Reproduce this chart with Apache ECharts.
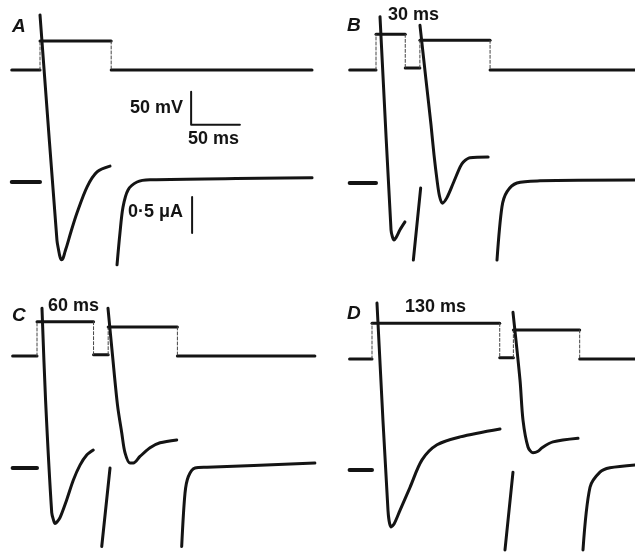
<!DOCTYPE html>
<html>
<head>
<meta charset="utf-8">
<script src="https://cdn.jsdelivr.net/npm/echarts@6/dist/echarts.min.js"></script>
<style>
  html, body { margin: 0; padding: 0; background: #fff; }
  #main { width: 635px; height: 552px; }
</style>
</head>
<body>
<div id="main"></div>
<script>
  // voltage protocol, ms / mV (holding -80 mV)
  var stepTimesA = [-29, 0, 73, 279];
  var stepLevelsA = [-80, -36, -80];
  var stepTimesB = [-27, 0, 30, 45, 117, 266];
  var stepLevelsB = [-80, -26, -77, -35, -80];
  var stepTimesC = [-25, 0, 58, 73, 144, 285];
  var stepLevelsC = [-80, -28, -78, -36, -80];
  var stepTimesD = [-23, 0, 131, 145, 213, 270];
  var stepLevelsD = [-80, -26, -78, -36, -80];

  // membrane current, [ms, uA], 0 = holding current
  var baseA = [[-29, 0], [0, 0]];
  var currentA = [
    [[0, 2.32], [17.4, -0.81], [19, -0.94], [20.5, -1.04], [22, -1.08], [23.6, -1.06], [25.6, -0.97], [27.7, -0.88], [32, -0.68], [37.9, -0.43], [48.2, -0.07], [58.5, 0.14], [71.8, 0.22]],
    [[79, -1.15], [82, -0.71], [85.1, -0.35], [90.3, -0.11], [99.5, 0], [112.8, 0.03], [279, 0.06]]
  ];
  var baseB = [[-27, 0], [0, 0]];
  var currentB = [
    [[4.1, 2.31], [15.4, -0.65], [16.9, -0.75], [18.5, -0.79], [20.5, -0.76], [24.6, -0.65], [29.7, -0.54]],
    [[38.3, -1.07], [45.8, -0.07]],
    [[45.1, 2.19], [51.3, 1.43], [56.4, 0.81], [59.5, 0.39], [62.6, 0.04], [65.1, -0.18], [68, -0.28], [72.5, -0.21], [79.3, 0], [86.2, 0.22], [89.5, 0.29], [96.4, 0.35], [115, 0.36]],
    [[124.1, -1.07], [129.2, -0.33], [134.4, -0.12], [144.6, 0], [168.2, 0.03], [266, 0.04]]
  ];
  var baseC = [[-25, 0], [0, 0]];
  var currentC = [
    [[5.1, 2.22], [8.8, 0.94], [15.1, -0.62], [16.9, -0.72], [18.5, -0.77], [20.5, -0.75], [23.6, -0.69], [30.5, -0.44], [37.2, -0.17], [44.1, 0.04], [51, 0.18], [57.7, 0.25]],
    [[66.4, -1.09], [74.9, 0]],
    [[72.8, 2.22], [77.4, 1.57], [82.6, 0.87], [86.9, 0.49], [90.3, 0.21], [95.4, 0.07], [98.8, 0.07], [105.6, 0.16], [115.9, 0.28], [126.2, 0.35], [143.3, 0.39]],
    [[148.4, -1.09], [151.8, -0.35], [155.2, -0.12], [162.1, 0], [174.4, 0.01], [285, 0.07]]
  ];
  var baseD = [[-23, 0], [0, 0]];
  var currentD = [
    [[5.1, 2.32], [16.4, -0.56], [19.5, -0.79], [22.6, -0.75], [28.7, -0.56], [39, -0.24], [51.3, 0.14], [66.7, 0.35], [90.3, 0.46], [131.3, 0.57]],
    [[136.4, -1.11], [144.6, -0.03]],
    [[144.6, 2.19], [151.8, 1.25], [154.9, 0.69], [160, 0.32], [165.1, 0.24], [170.3, 0.26], [174.4, 0.31], [185.6, 0.39], [211.3, 0.44]],
    [[216.4, -1.11], [223.6, -0.24], [233.8, -0.03], [244, 0.03], [270, 0.07]]
  ];

  // scale bars (panel A): 50 mV, 50 ms, 0.5 uA
  var barMv = [[155, -113], [155, -163], [205, -163]];
  var barUa = [[156, -0.21], [156, -0.71]];

  // page scale of the original figure
  var PX_MS = 0.975, PX_MV = 0.66, PX_UA = 72, HOLD = -80;
  var T_MIN = -30, W = 312, PAGE_W = 635;
  var panels = [
    {x0: 40, top: 0, h: 276, vBase: 70, iBase: 182, t: stepTimesA, v: stepLevelsA, base: baseA, cur: currentA},
    {x0: 376, top: 0, h: 276, vBase: 70, iBase: 183, t: stepTimesB, v: stepLevelsB, base: baseB, cur: currentB},
    {x0: 37, top: 276, h: 276, vBase: 356, iBase: 468, t: stepTimesC, v: stepLevelsC, base: baseC, cur: currentC},
    {x0: 372, top: 276, h: 276, vBase: 359, iBase: 470, t: stepTimesD, v: stepLevelsD, base: baseD, cur: currentD}
  ];

  var INK = '#141414';
  var grids = [], xAxes = [], yAxes = [], series = [];

  function line(data, xi, yi, style) {
    return {
      type: 'line', data: data, xAxisIndex: xi, yAxisIndex: yi,
      symbol: 'none', silent: true, animation: false, clip: false,
      smooth: style.smooth || false,
      lineStyle: {color: style.color || INK, width: style.width, type: style.type || 'solid', cap: 'round', join: 'round'}
    };
  }

  panels.forEach(function (p, k) {
    var left = p.x0 + T_MIN * PX_MS;
    var w = Math.min(W, PAGE_W - left);   // echarts keeps the grid inside the page
    grids.push({left: left, top: p.top, width: w, height: p.h});
    xAxes.push({type: 'value', gridIndex: k, min: T_MIN, max: T_MIN + w / PX_MS, show: false});
    var vMax = HOLD + (p.vBase - p.top) / PX_MV;
    yAxes.push({type: 'value', gridIndex: k, max: vMax, min: vMax - p.h / PX_MV, show: false});
    var iMax = (p.iBase - p.top) / PX_UA;
    yAxes.push({type: 'value', gridIndex: k, max: iMax, min: iMax - p.h / PX_UA, show: false});
    var vi = 2 * k, ii = 2 * k + 1;

    // voltage: solid plateaus, thin dashed jumps
    for (var i = 0; i < p.v.length; i++) {
      series.push(line([[p.t[i], p.v[i]], [p.t[i + 1], p.v[i]]], k, vi, {width: 3}));
      if (i > 0) {
        series.push(line([[p.t[i], p.v[i - 1]], [p.t[i], p.v[i]]], k, vi, {width: 1, type: [3, 2], color: '#444'}));
      }
    }
    // current
    series.push(line(p.base, k, ii, {width: 4}));
    p.cur.forEach(function (seg) {
      series.push(line(seg, k, ii, {width: 3, smooth: 0.3}));
    });
  });

  series.push(line(barMv, 0, 0, {width: 2}));
  series.push(line(barUa, 0, 1, {width: 2}));

  function txt(s, x, y, font, align) {
    return {type: 'text', silent: true, style: {text: s, x: x, y: y, font: font, fill: INK, textAlign: align || 'left', textVerticalAlign: 'middle'}};
  }
  var F = 'bold 18px "Liberation Sans", Arial, sans-serif';
  var FL = 'italic bold 19px "Liberation Sans", Arial, sans-serif';

  var chart = echarts.init(document.getElementById('main'));
  chart.setOption({
    backgroundColor: '#fff',
    animation: false,
    grid: grids,
    xAxis: xAxes,
    yAxis: yAxes,
    series: series,
    graphic: [
      txt('A', 12, 27, FL), txt('B', 347, 26, FL),
      txt('C', 12, 316, FL), txt('D', 347, 314, FL),
      txt('30 ms', 388, 15, F), txt('60 ms', 48, 306, F), txt('130 ms', 405, 307, F),
      txt('50 mV', 183, 108, F, 'right'),
      txt('50 ms', 188, 139, F),
      txt('0·5 μA', 128, 212, F)
    ]
  });
</script>
</body>
</html>
